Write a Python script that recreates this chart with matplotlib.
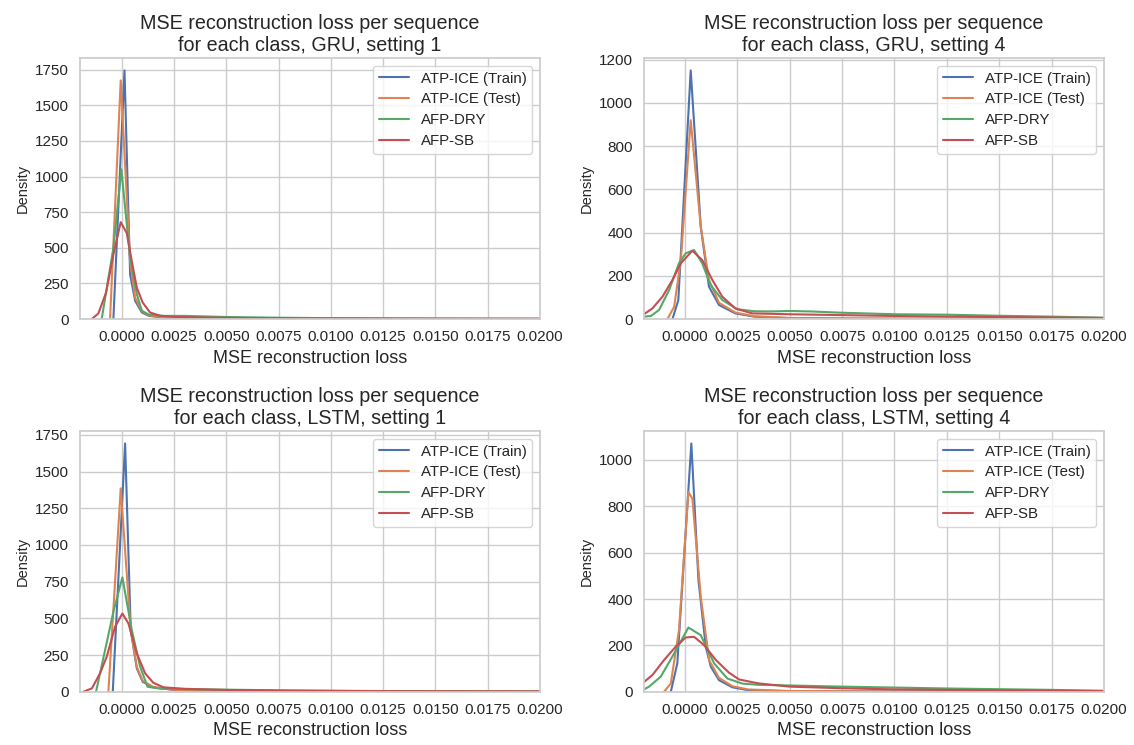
import matplotlib
matplotlib.use("Agg")
import matplotlib.pyplot as plt
import seaborn as sns

sns.set_theme(style="whitegrid")
plt.rcParams['font.family'] = ['Liberation Sans', 'DejaVu Sans']

labels = ["ATP-ICE (Train)", "ATP-ICE (Test)", "AFP-DRY", "AFP-SB"]
colors = ["#4C72B0", "#DD8452", "#55A868", "#C44E52"]
titles = ["MSE reconstruction loss per sequence\nfor each class, GRU, setting 1",
          "MSE reconstruction loss per sequence\nfor each class, GRU, setting 4",
          "MSE reconstruction loss per sequence\nfor each class, LSTM, setting 1",
          "MSE reconstruction loss per sequence\nfor each class, LSTM, setting 4"]

# GRU, setting 1
gru1_train_x = [-0.0004, 0.00013, 0.0004, 0.00064, 0.00096, 0.0013, 0.002, 0.003, 0.005, 0.01, 0.02]
gru1_train_y = [0, 1745, 313, 128, 46, 22, 10, 6, 3, 1, 0.5]
gru1_test_x = [-0.00056, -0.00005, 0.0004, 0.00064, 0.00096, 0.0013, 0.002, 0.003, 0.005, 0.01, 0.02]
gru1_test_y = [0, 1675, 406, 150, 55, 25, 12, 6, 3, 1, 0.5]
gru1_dry_x = [-0.00096, -0.0004, -0.00002, 0.0004, 0.00072, 0.00096, 0.0013, 0.002, 0.003, 0.004, 0.005, 0.0075, 0.01, 0.015, 0.02]
gru1_dry_y = [0, 499, 1051, 429, 174, 58, 30, 22, 22, 18, 14, 9, 6, 3, 2]
gru1_sb_x = [-0.00143, -0.00112, -0.00075, -0.0004, -0.00005, 0.00024, 0.00048, 0.00072, 0.001, 0.00135, 0.00183, 0.0025, 0.004, 0.006, 0.01, 0.015, 0.02]
gru1_sb_y = [0, 39, 186, 452, 680, 603, 406, 220, 116, 46, 23, 15, 10, 7, 4, 2, 1]

# GRU, setting 4
gru4_train_x = [-0.0006, -0.00032, 0.00027, 0.00075, 0.00114, 0.00162, 0.0024, 0.0033, 0.005, 0.008, 0.012, 0.02]
gru4_train_y = [0, 88, 1150, 427, 150, 65, 26, 11, 4, 2, 1, 0.5]
gru4_test_x = [-0.00084, -0.00052, -0.0002, 0.00027, 0.00075, 0.00114, 0.00162, 0.0024, 0.0033, 0.005, 0.008, 0.012, 0.02]
gru4_test_y = [0, 57, 273, 920, 427, 181, 75, 30, 13, 5, 2, 1, 0.5]
gru4_dry_x = [-0.00195, -0.00163, -0.00124, -0.00076, -0.00029, 0.00003, 0.00043, 0.00082, 0.00122, 0.00178, 0.0025, 0.0033, 0.004, 0.005, 0.006, 0.0075, 0.01, 0.0125, 0.015, 0.0175, 0.02]
gru4_dry_y = [11, 14, 42, 134, 258, 304, 319, 258, 157, 88, 45, 36, 35, 37, 35, 29, 22, 20, 15, 11, 6]
gru4_sb_x = [-0.00195, -0.00156, -0.00108, -0.0006, -0.0002, 0.00035, 0.00082, 0.0013, 0.00178, 0.0024, 0.0032, 0.005, 0.0075, 0.01, 0.0125, 0.015, 0.0175, 0.02]
gru4_sb_y = [23, 49, 103, 181, 258, 316, 273, 181, 103, 49, 26, 22, 18, 14, 11, 9, 7, 5]

# LSTM, setting 1
lstm1_train_x = [-0.00043, 0.00016, 0.00043, 0.00072, 0.001, 0.0015, 0.0025, 0.004, 0.007, 0.012, 0.02]
lstm1_train_y = [0, 1691, 420, 159, 68, 30, 12, 5, 2, 1, 0.5]
lstm1_test_x = [-0.00064, -0.00005, 0.00043, 0.00072, 0.001, 0.0015, 0.0025, 0.004, 0.007, 0.012, 0.02]
lstm1_test_y = [0, 1385, 420, 170, 75, 33, 13, 5, 2, 1, 0.5]
lstm1_dry_x = [-0.00123, -0.0004, 0.00003, 0.00048, 0.00088, 0.00123, 0.0018, 0.003, 0.005, 0.008, 0.012, 0.02]
lstm1_dry_y = [0, 545, 779, 420, 170, 34, 22, 18, 14, 9, 5, 2]
lstm1_sb_x = [-0.00183, -0.00143, -0.00104, -0.00072, -0.00032, 0.00003, 0.00032, 0.00072, 0.00112, 0.00151, 0.002, 0.003, 0.005, 0.008, 0.012, 0.02]
lstm1_sb_y = [0, 23, 125, 238, 443, 533, 465, 261, 125, 61, 30, 20, 12, 7, 4, 2]

# LSTM, setting 4
lstm4_train_x = [-0.00068, -0.00037, 0.0003, 0.00064, 0.00099, 0.00123, 0.00162, 0.00226, 0.003, 0.005, 0.01, 0.02]
lstm4_train_y = [0, 122, 1071, 481, 194, 108, 50, 19, 7, 2, 1, 0.5]
lstm4_test_x = [-0.001, -0.00068, -0.00029, 0.00016, 0.00035, 0.00075, 0.00115, 0.00162, 0.00226, 0.003, 0.005, 0.01, 0.02]
lstm4_test_y = [0, 36, 266, 862, 833, 410, 136, 60, 24, 10, 3, 1, 0.5]
lstm4_dry_x = [-0.00196, -0.00172, -0.00116, -0.00061, -0.00021, 0.00016, 0.00075, 0.00139, 0.00202, 0.00274, 0.0035, 0.005, 0.0075, 0.01, 0.0125, 0.015, 0.0175, 0.02]
lstm4_dry_y = [10, 22, 65, 151, 216, 277, 244, 122, 57, 35, 30, 27, 22, 18, 14, 11, 8, 4]
lstm4_sb_x = [-0.002, -0.00156, -0.001, -0.00045, 0.00003, 0.00043, 0.00091, 0.00147, 0.0021, 0.00258, 0.0035, 0.005, 0.0075, 0.01, 0.0125, 0.015, 0.02]
lstm4_sb_y = [39, 72, 137, 194, 234, 237, 201, 137, 82, 53, 36, 22, 15, 10, 8, 6, 3]

panels = [
    [(gru1_train_x, gru1_train_y), (gru1_test_x, gru1_test_y), (gru1_dry_x, gru1_dry_y), (gru1_sb_x, gru1_sb_y)],
    [(gru4_train_x, gru4_train_y), (gru4_test_x, gru4_test_y), (gru4_dry_x, gru4_dry_y), (gru4_sb_x, gru4_sb_y)],
    [(lstm1_train_x, lstm1_train_y), (lstm1_test_x, lstm1_test_y), (lstm1_dry_x, lstm1_dry_y), (lstm1_sb_x, lstm1_sb_y)],
    [(lstm4_train_x, lstm4_train_y), (lstm4_test_x, lstm4_test_y), (lstm4_dry_x, lstm4_dry_y), (lstm4_sb_x, lstm4_sb_y)],
]
xleft = [-0.002, -0.00196, -0.002, -0.00196]

fig = plt.figure(figsize=(11.34, 7.45), dpi=100)
rects = [[0.0705, 0.5718, 0.4056, 0.3503], [0.5679, 0.5718, 0.4056, 0.3503],
         [0.0705, 0.0715, 0.4056, 0.3499], [0.5679, 0.0715, 0.4056, 0.3499]]

for i in range(4):
    ax = fig.add_axes(rects[i])
    top = 0
    for (x, y), lab, c in zip(panels[i], labels, colors):
        ax.plot(x, y, color=c, lw=1.5, label=lab)
        top = max(top, max(y))
    ax.set_xlim(xleft[i], 0.02)
    ax.set_ylim(0, top * 1.05)
    ax.set_xticks([0, 0.0025, 0.005, 0.0075, 0.01, 0.0125, 0.015, 0.0175, 0.02])
    ax.set_xticklabels(["%.4f" % t for t in ax.get_xticks()])
    ax.tick_params(labelsize=11, pad=2)
    ax.set_title(titles[i], fontsize=14.2, pad=5)
    ax.set_xlabel("MSE reconstruction loss", fontsize=13, labelpad=4)
    ax.set_ylabel("Density", fontsize=10.5)
    ax.legend(loc="upper right", fontsize=10.8, labelspacing=0.45)

fig.savefig("out.png", dpi=100)
